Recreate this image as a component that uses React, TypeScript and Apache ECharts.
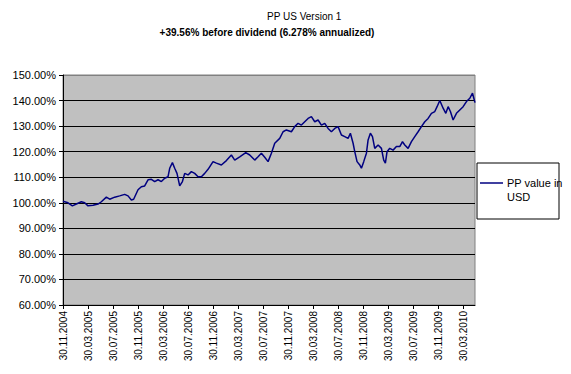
import React, { useEffect, useRef } from "react";
import * as echarts from "echarts";

const titleText = "PP US Version 1";
const subtitleText = "+39.56% before dividend (6.278% annualized)";
const seriesName = "PP value in USD";

const xTickLabels = [
  "30.11.2004", "30.03.2005", "30.07.2005", "30.11.2005", "30.03.2006",
  "30.07.2006", "30.11.2006", "30.03.2007", "30.07.2007", "30.11.2007",
  "30.03.2008", "30.07.2008", "30.11.2008", "30.03.2009", "30.07.2009",
  "30.11.2009", "30.03.2010",
];

const dates = [
  "2004-11-30", "2004-12-08", "2004-12-24", "2005-01-15", "2005-02-04", "2005-02-28",
  "2005-03-14", "2005-03-30", "2005-04-24", "2005-05-18", "2005-06-04", "2005-06-28",
  "2005-07-14", "2005-08-08", "2005-09-02", "2005-09-26", "2005-10-12", "2005-10-28",
  "2005-11-09", "2005-11-30", "2005-12-16", "2006-01-02", "2006-01-18", "2006-02-04",
  "2006-02-20", "2006-03-06", "2006-03-22", "2006-04-08", "2006-04-24", "2006-05-02",
  "2006-05-15", "2006-05-26", "2006-06-07", "2006-06-20", "2006-07-03", "2006-07-14",
  "2006-07-30", "2006-08-16", "2006-09-02", "2006-09-18", "2006-10-04", "2006-10-20",
  "2006-11-06", "2006-11-30", "2006-12-16", "2007-01-10", "2007-02-04", "2007-02-28",
  "2007-03-14", "2007-04-08", "2007-05-07", "2007-05-26", "2007-06-20", "2007-07-06",
  "2007-07-22", "2007-08-08", "2007-08-24", "2007-09-10", "2007-09-26", "2007-10-20",
  "2007-11-06", "2007-11-22", "2007-12-16", "2008-01-02", "2008-01-18", "2008-02-04",
  "2008-02-20", "2008-03-06", "2008-03-22", "2008-04-08", "2008-04-24", "2008-05-10",
  "2008-05-26", "2008-06-12", "2008-06-28", "2008-07-14", "2008-07-30", "2008-08-16",
  "2008-09-02", "2008-09-18", "2008-09-29", "2008-10-12", "2008-10-20", "2008-11-01",
  "2008-11-14", "2008-11-22", "2008-12-03", "2008-12-16", "2008-12-24", "2009-01-05",
  "2009-01-15", "2009-01-26", "2009-02-12", "2009-02-28", "2009-03-09", "2009-03-17",
  "2009-03-25", "2009-04-08", "2009-04-24", "2009-05-10", "2009-05-26", "2009-06-09",
  "2009-06-20", "2009-07-06", "2009-07-22", "2009-08-08", "2009-08-24", "2009-09-10",
  "2009-09-26", "2009-10-12", "2009-10-28", "2009-11-14", "2009-11-25", "2009-12-08",
  "2009-12-24", "2010-01-07", "2010-01-18", "2010-01-29", "2010-02-12", "2010-02-28",
  "2010-03-14", "2010-03-30", "2010-04-16", "2010-05-02", "2010-05-15", "2010-05-21",
  "2010-05-27",
];

const values = [
  100.6, 100.4, 100.0, 98.8, 99.5, 100.4,
  100.0, 98.8, 99.0, 99.5, 100.4, 102.2,
  101.4, 102.2, 102.7, 103.3, 102.7, 101.1,
  101.4, 105.1, 106.3, 106.6, 109.0, 109.2,
  108.3, 109.0, 108.3, 109.6, 110.2, 113.5,
  115.7, 113.5, 111.5, 106.6, 108.3, 111.5,
  110.9, 112.2, 111.5, 110.2, 110.2, 111.5,
  113.1, 116.1, 115.5, 114.8, 116.5, 118.7,
  116.7, 118.0, 119.6, 118.7, 116.7, 118.0,
  119.4, 117.8, 116.1, 119.4, 123.3, 125.2,
  127.8, 128.5, 127.8, 129.8, 131.1, 130.4,
  131.7, 133.0, 133.7, 131.7, 132.4, 130.4,
  131.1, 129.1, 127.8, 129.1, 129.8, 126.5,
  125.9, 125.2, 127.2, 123.3, 120.0, 116.1,
  114.8, 113.5, 116.1, 119.4, 124.6, 127.2,
  125.9, 121.3, 122.6, 121.3, 116.7, 115.5,
  120.0, 121.3, 120.6, 122.0, 122.0, 123.9,
  122.6, 121.3, 123.9, 125.9, 127.8, 129.8,
  131.7, 133.0, 135.0, 135.7, 137.6, 140.0,
  137.0, 135.0, 137.6, 135.7, 132.4, 135.0,
  136.3, 137.6, 139.6, 140.9, 142.9, 141.0,
  139.2,
];

// months elapsed since 30.11.2004 (30-day month fractions, as on the Excel date axis)
function monthOffset(y: number, m: number, d: number): number {
  return (y - 2004) * 12 + m - 12 + d / 30;
}
function isoOffset(s: string): number {
  const [y, m, d] = s.split("-").map(Number);
  return monthOffset(y, m, d);
}
function labelOffset(s: string): number {
  const [d, m, y] = s.split(".").map(Number);
  return monthOffset(y, m, d);
}

const FONT = '"Liberation Sans", Arial, sans-serif';

export default function App() {
  const ref = useRef<HTMLDivElement>(null);
  useEffect(() => {
    if (!ref.current) return;
    const chart = echarts.init(ref.current, undefined, { renderer: "svg" });
    const tickOffsets = xTickLabels.map(labelOffset);
    const labelMap = new Map<number, string>();
    tickOffsets.forEach((o, i) => labelMap.set(Math.round(o * 1000), xTickLabels[i]));
    const data = dates.map((d, i) => [isoOffset(d), values[i]]);
    const xMax = isoOffset(dates[dates.length - 1]);
    const gridColors = ["#000000", "#000000", "#000000", "#000000", "#000000",
      "#000000", "#000000", "#000000", "#000000", "#808080"];

    chart.setOption({
      animation: false,
      backgroundColor: "#ffffff",
      textStyle: { fontFamily: FONT },
      grid: {
        left: 63,
        right: 96,
        top: 75,
        bottom: 69,
        show: true,
        backgroundColor: "#c0c0c0",
        borderColor: "#808080",
        borderWidth: 1,
      },
      xAxis: {
        type: "value",
        min: 0,
        max: xMax,
        interval: 4,
        axisLine: { show: true, onZero: false, lineStyle: { color: "#000000", width: 1 } },
        axisTick: {
          show: true,
          length: 4,
          inside: false,
          customValues: tickOffsets,
          lineStyle: { color: "#000000" },
        },
        axisLabel: {
          rotate: 90,
          margin: 6,
          fontSize: 10,
          fontFamily: FONT,
          color: "#000000",
          customValues: tickOffsets,
          formatter: (v: number) => labelMap.get(Math.round(v * 1000)) ?? "",
        },
        splitLine: { show: false },
      },
      yAxis: {
        type: "value",
        min: 60,
        max: 150,
        interval: 10,
        axisLine: { show: true, lineStyle: { color: "#000000", width: 1 } },
        axisTick: { show: true, length: 4, lineStyle: { color: "#000000" } },
        axisLabel: {
          margin: 7,
          fontSize: 11,
          fontFamily: FONT,
          color: "#000000",
          formatter: (v: number) => v.toFixed(2) + "%",
        },
        splitLine: { show: true, lineStyle: { color: gridColors, width: 1 } },
      },
      series: [
        {
          name: seriesName,
          type: "line",
          data,
          showSymbol: false,
          symbol: "none",
          lineStyle: { color: "#000080", width: 1.5 },
          z: 5,
        },
      ],
      graphic: [
        {
          type: "text",
          left: 267,
          top: 11,
          style: {
            text: titleText,
            font: `10px ${FONT}`,
            fill: "#000000",
            textAlign: "center",
          },
        },
        {
          type: "text",
          x: 267,
          y: 27,
          style: {
            text: subtitleText,
            font: `bold 10px ${FONT}`,
            fill: "#000000",
            textAlign: "center",
          },
        },
        {
          type: "rect",
          shape: { x: 477, y: 163, width: 82, height: 56 },
          style: { fill: "#ffffff", stroke: "#000000", lineWidth: 1 },
        },
        {
          type: "line",
          shape: { x1: 480, y1: 183, x2: 503, y2: 183 },
          style: { stroke: "#000080", lineWidth: 1.5 },
        },
        {
          type: "text",
          x: 507,
          y: 176,
          style: {
            text: "PP value in\nUSD",
            font: `11px ${FONT}`,
            lineHeight: 14,
            fill: "#000000",
          },
        },
      ],
    });
    return () => chart.dispose();
  }, []);
  return (
    <div
      ref={ref}
      style={{ position: "fixed", left: 0, top: 0, width: 571, height: 374 }}
    />
  );
}
